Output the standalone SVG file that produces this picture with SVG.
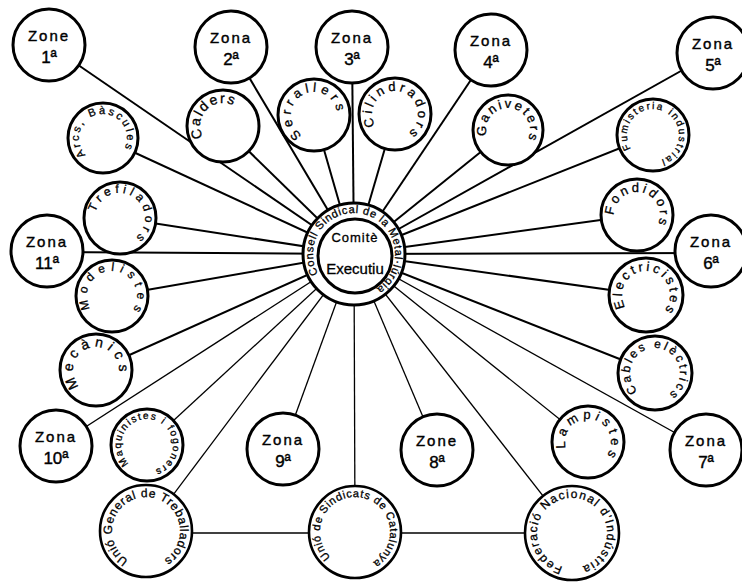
<svg xmlns="http://www.w3.org/2000/svg" width="742" height="583" viewBox="0 0 742 583">
<style>
.bg{fill:#fff}
.c{fill:#fff;stroke:#000;stroke-width:3}
.cb{fill:#fff;stroke:#000;stroke-width:2.6}
.l{stroke:#000;stroke-width:2;fill:none}
.lt{stroke:#000;stroke-width:1.3;fill:none}
.z{font-family:"Liberation Sans",Arial,sans-serif;font-size:15px;letter-spacing:2px;text-anchor:middle;fill:#000;stroke:#000;stroke-width:0.4}
.n{font-family:"Liberation Sans",Arial,sans-serif;font-size:17px;text-anchor:middle;fill:#000;stroke:#000;stroke-width:0.4}
.a{font-family:"Liberation Sans",Arial,sans-serif;text-anchor:middle;fill:#000;stroke:#000;stroke-width:0.3}
</style>
<defs>
<path id="p-arcs" d="M103,162 A24,24 0 1 1 103,114 A24,24 0 1 1 103,162"/>
<path id="p-cal" d="M223,149 A23,23 0 1 1 223,103 A23,23 0 1 1 223,149"/>
<path id="p-ser" d="M314,138 A23,23 0 1 1 314,92 A23,23 0 1 1 314,138"/>
<path id="p-cil" d="M395,137 A23,23 0 1 1 395,91 A23,23 0 1 1 395,137"/>
<path id="p-gan" d="M508,152 A22,22 0 1 1 508,108 A22,22 0 1 1 508,152"/>
<path id="p-fum" d="M653,161 A26,26 0 1 1 653,109 A26,26 0 1 1 653,161"/>
<path id="p-tre" d="M120,243 A25,25 0 1 1 120,193 A25,25 0 1 1 120,243"/>
<path id="p-mod" d="M112,321 A25,25 0 1 1 112,271 A25,25 0 1 1 112,321"/>
<path id="p-mec" d="M96,393 A23,23 0 1 1 96,347 A23,23 0 1 1 96,393"/>
<path id="p-maq" d="M147,471 A26,26 0 1 1 147,419 A26,26 0 1 1 147,471"/>
<path id="p-fon" d="M637,238 A23,23 0 1 1 637,192 A23,23 0 1 1 637,238"/>
<path id="p-ele" d="M646,319 A24,24 0 1 1 646,271 A24,24 0 1 1 646,319"/>
<path id="p-cab" d="M655,398 A25,25 0 1 1 655,348 A25,25 0 1 1 655,398"/>
<path id="p-lam" d="M588,465 A23,23 0 1 1 588,419 A23,23 0 1 1 588,465"/>
<path id="p-ugt" d="M146,565 A34,34 0 1 1 146,497 A34,34 0 1 1 146,565"/>
<path id="p-usc" d="M355,567 A35,35 0 1 1 355,497 A35,35 0 1 1 355,567"/>
<path id="p-fni" d="M572,568 A35,35 0 1 1 572,498 A35,35 0 1 1 572,568"/>
<path id="p-hub" d="M354,295 A41,41 0 1 1 354,213 A41,41 0 1 1 354,295"/>
</defs>
<rect class="bg" x="0" y="0" width="742" height="583"/>

<g id="connectors">
<line class="l" x1="354" y1="254" x2="49" y2="45"/>
<line class="l" x1="354" y1="254" x2="231" y2="47"/>
<line class="l" x1="354" y1="254" x2="352" y2="47"/>
<line class="l" x1="354" y1="254" x2="491" y2="50"/>
<line class="l" x1="354" y1="254" x2="713" y2="53"/>
<line class="l" x1="354" y1="254" x2="103" y2="138"/>
<line class="l" x1="354" y1="254" x2="223" y2="126"/>
<line class="l" x1="354" y1="254" x2="314" y2="115"/>
<line class="l" x1="354" y1="254" x2="395" y2="114"/>
<line class="l" x1="354" y1="254" x2="508" y2="130"/>
<line class="l" x1="354" y1="254" x2="653" y2="135"/>
<line class="l" x1="354" y1="254" x2="120" y2="218"/>
<line class="l" x1="354" y1="254" x2="47" y2="252"/>
<line class="l" x1="354" y1="254" x2="112" y2="296"/>
<line class="l" x1="354" y1="254" x2="96" y2="370"/>
<line class="l" x1="354" y1="254" x2="637" y2="215"/>
<line class="l" x1="354" y1="254" x2="711" y2="253"/>
<line class="l" x1="354" y1="254" x2="646" y2="295"/>
<line class="l" x1="354" y1="254" x2="655" y2="373"/>
<line class="lt" x1="354" y1="254" x2="56" y2="446"/>
<line class="lt" x1="354" y1="254" x2="147" y2="445"/>
<line class="lt" x1="354" y1="254" x2="146" y2="531"/>
<line class="lt" x1="354" y1="254" x2="283" y2="449"/>
<line class="lt" x1="354" y1="254" x2="355" y2="532"/>
<line class="lt" x1="354" y1="254" x2="437" y2="450"/>
<line class="lt" x1="354" y1="254" x2="572" y2="533"/>
<line class="lt" x1="354" y1="254" x2="588" y2="442"/>
<line class="lt" x1="354" y1="254" x2="706" y2="450"/>
<line class="lt" x1="146" y1="533" x2="572" y2="533"/>
</g>

<g id="hub">
<circle class="c" cx="354" cy="254" r="51"/>
<circle class="c" cx="355" cy="256" r="37"/>
<text class="a" font-size="11" letter-spacing="0.7"><textPath href="#p-hub" startOffset="54%">Consell Sindical de la Metal·lúrgia</textPath></text>
<text class="a" x="355" y="242" font-size="13" letter-spacing="1">Comitè</text>
<text class="a" x="355" y="274" font-size="15">Executiu</text>
</g>

<g id="zona1"><circle class="c" cx="49" cy="45" r="36"/><text class="z" x="49" y="41">Zone</text><text class="n" x="49" y="63">1ª</text></g>
<g id="zona2"><circle class="c" cx="231" cy="47" r="36"/><text class="z" x="231" y="43">Zona</text><text class="n" x="231" y="65">2ª</text></g>
<g id="zona3"><circle class="c" cx="352" cy="47" r="36"/><text class="z" x="352" y="43">Zona</text><text class="n" x="352" y="65">3ª</text></g>
<g id="zona4"><circle class="c" cx="491" cy="50" r="36"/><text class="z" x="491" y="46">Zona</text><text class="n" x="491" y="68">4ª</text></g>
<g id="zona5"><circle class="c" cx="713" cy="53" r="36"/><text class="z" x="713" y="49">Zona</text><text class="n" x="713" y="71">5ª</text></g>
<g id="zona6"><circle class="c" cx="711" cy="251" r="36"/><text class="z" x="711" y="247">Zona</text><text class="n" x="711" y="269">6ª</text></g>
<g id="zona7"><circle class="c" cx="706" cy="450" r="36"/><text class="z" x="706" y="446">Zona</text><text class="n" x="706" y="468">7ª</text></g>
<g id="zona8"><circle class="c" cx="437" cy="450" r="36"/><text class="z" x="437" y="446">Zone</text><text class="n" x="437" y="468">8ª</text></g>
<g id="zona9"><circle class="c" cx="283" cy="449" r="36"/><text class="z" x="283" y="445">Zona</text><text class="n" x="283" y="467">9ª</text></g>
<g id="zona10"><circle class="c" cx="56" cy="446" r="36"/><text class="z" x="56" y="442">Zona</text><text class="n" x="56" y="464">10ª</text></g>
<g id="zona11"><circle class="c" cx="47" cy="251" r="36"/><text class="z" x="47" y="247">Zona</text><text class="n" x="47" y="269">11ª</text></g>

<g id="arques"><circle class="c" cx="103" cy="138" r="35"/><text class="a" font-size="11" letter-spacing="2.4"><textPath href="#p-arcs" startOffset="48%">Arcs, Bàscules</textPath></text></g>
<g id="calders"><circle class="c" cx="223" cy="126" r="36"/><text class="a" font-size="14" letter-spacing="1.7"><textPath href="#p-cal" startOffset="37.5%">Calders</textPath></text></g>
<g id="serrallers"><circle class="c" cx="314" cy="115" r="36"/><text class="a" font-size="13" letter-spacing="4"><textPath href="#p-ser" startOffset="41.7%">Serrallers</textPath></text></g>
<g id="cilindradors"><circle class="c" cx="395" cy="114" r="36"/><text class="a" font-size="13" letter-spacing="3.3"><textPath href="#p-cil" startOffset="54.2%">Cilindradors</textPath></text></g>
<g id="ganiveters"><circle class="c" cx="508" cy="130" r="35"/><text class="a" font-size="13" letter-spacing="2.3"><textPath href="#p-gan" startOffset="52%">Ganiveters</textPath></text></g>
<g id="fumisteria"><circle class="c" cx="653" cy="135" r="36"/><text class="a" font-size="10" letter-spacing="1.9"><textPath href="#p-fum" startOffset="56%">Fumisteria industrial</textPath></text></g>
<g id="trefiladors"><circle class="c" cx="120" cy="218" r="36"/><text class="a" font-size="12" letter-spacing="3.8"><textPath href="#p-tre" startOffset="60%">Trefiladors</textPath></text></g>
<g id="modelistes"><circle class="c" cx="112" cy="296" r="36"/><text class="a" font-size="12" letter-spacing="5.4"><textPath href="#p-mod" startOffset="52%">Modelistes</textPath></text></g>
<g id="mecanics"><circle class="c" cx="96" cy="370" r="36"/><text class="a" font-size="14" letter-spacing="4.6"><textPath href="#p-mec" startOffset="45.8%">Mecànics</textPath></text></g>
<g id="maquinistes"><circle class="c" cx="147" cy="445" r="36"/><text class="a" font-size="10" letter-spacing="1.6"><textPath href="#p-maq" startOffset="54%">Maquinistes i fogoners</textPath></text></g>
<g id="fondidors"><circle class="c" cx="637" cy="215" r="36"/><text class="a" font-size="13" letter-spacing="2.9"><textPath href="#p-fon" startOffset="54%">Fondidors</textPath></text></g>
<g id="electricistes"><circle class="c" cx="646" cy="295" r="37"/><text class="a" font-size="13" letter-spacing="2.9"><textPath href="#p-ele" startOffset="52%">Electricistes</textPath></text></g>
<g id="cables"><circle class="c" cx="655" cy="373" r="37"/><text class="a" font-size="12" letter-spacing="2.5"><textPath href="#p-cab" startOffset="52%">Cables elèctrics</textPath></text></g>
<g id="lampistes"><circle class="c" cx="588" cy="442" r="36"/><text class="a" font-size="13" letter-spacing="4.1"><textPath href="#p-lam" startOffset="54%">Lampistes</textPath></text></g>

<g id="ugt"><circle class="cb" cx="146" cy="531" r="46"/><text class="a" font-size="12" letter-spacing="0.7"><textPath href="#p-ugt" startOffset="50%">Unió General de Treballadors</textPath></text></g>
<g id="usc"><circle class="cb" cx="355" cy="532" r="46"/><text class="a" font-size="11" letter-spacing="0.7"><textPath href="#p-usc" startOffset="52%">Unió de Sindicats de Catalunya</textPath></text></g>
<g id="fni"><circle class="cb" cx="572" cy="533" r="47"/><text class="a" font-size="12" letter-spacing="1.3"><textPath href="#p-fni" startOffset="50%">Federació Nacional d'Indústria</textPath></text></g>
</svg>
